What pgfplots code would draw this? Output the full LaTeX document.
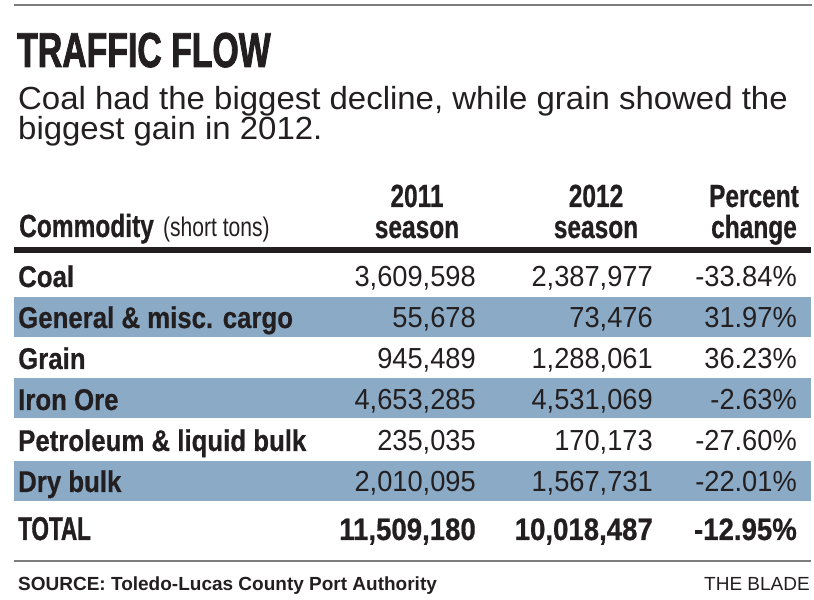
\documentclass[border=0pt]{standalone}
\usepackage{fontspec}
\usepackage{pgfplots}
\usepackage{pgfplotstable}
\pgfplotsset{compat=1.18}
\setmainfont{Liberation Sans}
\newfontfamily\ftitle{Liberation Sans}[FakeStretch=0.69, FakeBold=1.6]
\newfontfamily\fhead{Liberation Sans}[FakeStretch=0.765, FakeBold=0.6]
\newfontfamily\fsmall{Liberation Sans}[FakeStretch=0.78]
\newfontfamily\frow{Liberation Sans}[FakeStretch=0.86, FakeBold=0.5]
\newfontfamily\ftotal{Liberation Sans}[FakeStretch=0.68, FakeBold=1.2]
\newfontfamily\fnum{Liberation Sans}[FakeStretch=0.94]
\newfontfamily\fnumb{Liberation Sans}[FakeStretch=0.89, FakeBold=0.6]
\newfontfamily\fsub{Liberation Sans}[FakeStretch=1.03]
\definecolor{ink}{RGB}{35,31,32}
\definecolor{band}{RGB}{138,170,198}
\definecolor{rulegray}{RGB}{125,125,125}

\pgfplotstableread[col sep=semicolon]{
base;name;a;b;p
287;Coal;3609598;2387977;-33.84
328;General \& misc. cargo;55678;73476;31.97
369;Grain;945489;1288061;36.23
410;Iron Ore;4653285;4531069;-2.63
451;Petroleum \& liquid bulk;235035;170173;-27.60
492;Dry bulk;2010095;1567731;-22.01
}\rows

\pgfplotstableread[col sep=semicolon]{
base;name;a;b;p
540;TOTAL;11509180;10018487;-12.95
}\totalrow

\begin{document}
\begin{tikzpicture}
\begin{axis}[
  scale only axis, width=814bp, height=600bp,
  xmin=0, xmax=814, ymin=0, ymax=600, y dir=reverse,
  hide axis, clip=false,
  /pgf/number format/assume math mode=true,
]
\coordinate (BBa) at (axis cs:0,600);
\coordinate (BBb) at (axis cs:814,0);
% rules
\addplot[rulegray, line width=2bp, mark=none] coordinates {(14,5) (812,5)};
\addplot[ink, line width=5.5bp, mark=none] coordinates {(14,250) (811,250)};
\addplot[rulegray, line width=2.5bp, mark=none] coordinates {(14,561) (811,561)};
% bands
\addplot[band, line width=40bp, mark=none] coordinates {(14,317) (811,317)};
\addplot[band, line width=40bp, mark=none] coordinates {(14,398.5) (811,398.5)};
\addplot[band, line width=40bp, mark=none] coordinates {(14,481) (811,481)};

% row labels
\addplot[draw=none, mark=none, point meta=explicit symbolic,
  nodes near coords={\pgfplotspointmeta},
  every node near coord/.append style={anchor=base west, inner sep=0pt, text=ink,
    font=\frow\bfseries\fontsize{30bp}{30bp}\selectfont}]
  table[x expr=18, y=base, meta=name] {\rows};
% 2011
\addplot[draw=none, mark=none, point meta=explicit,
  nodes near coords={\pgfmathprintnumber[fixed, precision=0, 1000 sep={,}]{\pgfplotspointmeta}},
  every node near coord/.append style={anchor=base east, inner sep=0pt, text=ink,
    font=\fnum\fontsize{29bp}{29bp}\selectfont}]
  table[x expr=476, y=base, meta=a] {\rows};
% 2012
\addplot[draw=none, mark=none, point meta=explicit,
  nodes near coords={\pgfmathprintnumber[fixed, precision=0, 1000 sep={,}]{\pgfplotspointmeta}},
  every node near coord/.append style={anchor=base east, inner sep=0pt, text=ink,
    font=\fnum\fontsize{29bp}{29bp}\selectfont}]
  table[x expr=653, y=base, meta=b] {\rows};
% percent
\addplot[draw=none, mark=none, point meta=explicit,
  nodes near coords={\pgfmathprintnumber[fixed, fixed zerofill, precision=2]{\pgfplotspointmeta}\%},
  every node near coord/.append style={anchor=base east, inner sep=0pt, text=ink,
    font=\fnum\fontsize{29bp}{29bp}\selectfont}]
  table[x expr=797, y=base, meta=p] {\rows};

% total row
\addplot[draw=none, mark=none, point meta=explicit symbolic,
  nodes near coords={\pgfplotspointmeta},
  every node near coord/.append style={anchor=base west, inner sep=0pt, text=ink,
    font=\ftotal\bfseries\fontsize{33bp}{33bp}\selectfont}]
  table[x expr=18, y=base, meta=name] {\totalrow};
\addplot[draw=none, mark=none, point meta=explicit,
  nodes near coords={\pgfmathprintnumber[fixed, precision=0, 1000 sep={,}]{\pgfplotspointmeta}},
  every node near coord/.append style={anchor=base east, inner sep=0pt, text=ink,
    font=\fnumb\bfseries\fontsize{31bp}{31bp}\selectfont}]
  table[x expr=476, y=base, meta=a] {\totalrow};
\addplot[draw=none, mark=none, point meta=explicit,
  nodes near coords={\pgfmathprintnumber[fixed, precision=0, 1000 sep={,}]{\pgfplotspointmeta}},
  every node near coord/.append style={anchor=base east, inner sep=0pt, text=ink,
    font=\fnumb\bfseries\fontsize{31bp}{31bp}\selectfont}]
  table[x expr=653, y=base, meta=b] {\totalrow};
\addplot[draw=none, mark=none, point meta=explicit,
  nodes near coords={\pgfmathprintnumber[fixed, fixed zerofill, precision=2]{\pgfplotspointmeta}\%},
  every node near coord/.append style={anchor=base east, inner sep=0pt, text=ink,
    font=\fnumb\bfseries\fontsize{31bp}{31bp}\selectfont}]
  table[x expr=797, y=base, meta=p] {\totalrow};

% titles
\node[anchor=base west, inner sep=0pt, text=ink, font=\ftitle\bfseries\fontsize{49bp}{49bp}\selectfont]
  at (axis cs:17,67) {TRAFFIC FLOW};
\node[anchor=base west, inner sep=0pt, text=ink, font=\fsub\fontsize{32bp}{32bp}\selectfont]
  at (axis cs:18,110) {Coal had the biggest decline, while grain showed the};
\node[anchor=base west, inner sep=0pt, text=ink, font=\fsub\fontsize{32bp}{32bp}\selectfont]
  at (axis cs:18,140) {biggest gain in 2012.};

% headers
\node[anchor=base west, inner sep=0pt, text=ink, font=\fhead\bfseries\fontsize{32bp}{32bp}\selectfont]
  at (axis cs:19,237) {Commodity};
\node[anchor=base west, inner sep=0pt, text=ink, font=\fsmall\fontsize{27bp}{27bp}\selectfont]
  at (axis cs:163,237) {(short tons)};
\node[anchor=base, inner sep=0pt, text=ink, font=\fhead\bfseries\fontsize{32bp}{32bp}\selectfont] at (axis cs:417,207) {2011};
\node[anchor=base, inner sep=0pt, text=ink, font=\fhead\bfseries\fontsize{32bp}{32bp}\selectfont] at (axis cs:417,238) {season};
\node[anchor=base, inner sep=0pt, text=ink, font=\fhead\bfseries\fontsize{32bp}{32bp}\selectfont] at (axis cs:596,207) {2012};
\node[anchor=base, inner sep=0pt, text=ink, font=\fhead\bfseries\fontsize{32bp}{32bp}\selectfont] at (axis cs:596,238) {season};
\node[anchor=base, inner sep=0pt, text=ink, font=\fhead\bfseries\fontsize{32bp}{32bp}\selectfont] at (axis cs:754,207) {Percent};
\node[anchor=base, inner sep=0pt, text=ink, font=\fhead\bfseries\fontsize{32bp}{32bp}\selectfont] at (axis cs:754,238) {change};

% footer
\node[anchor=base west, inner sep=0pt, text=ink, font=\bfseries\fontsize{19bp}{19bp}\selectfont]
  at (axis cs:18,591) {SOURCE: Toledo-Lucas County Port Authority};
\node[anchor=base east, inner sep=0pt, text=ink, font=\fontsize{19bp}{19bp}\selectfont]
  at (axis cs:810,591) {THE BLADE};
\end{axis}
\pgfresetboundingbox
\path[use as bounding box] (BBa) rectangle (BBb);
\end{tikzpicture}
\end{document}
